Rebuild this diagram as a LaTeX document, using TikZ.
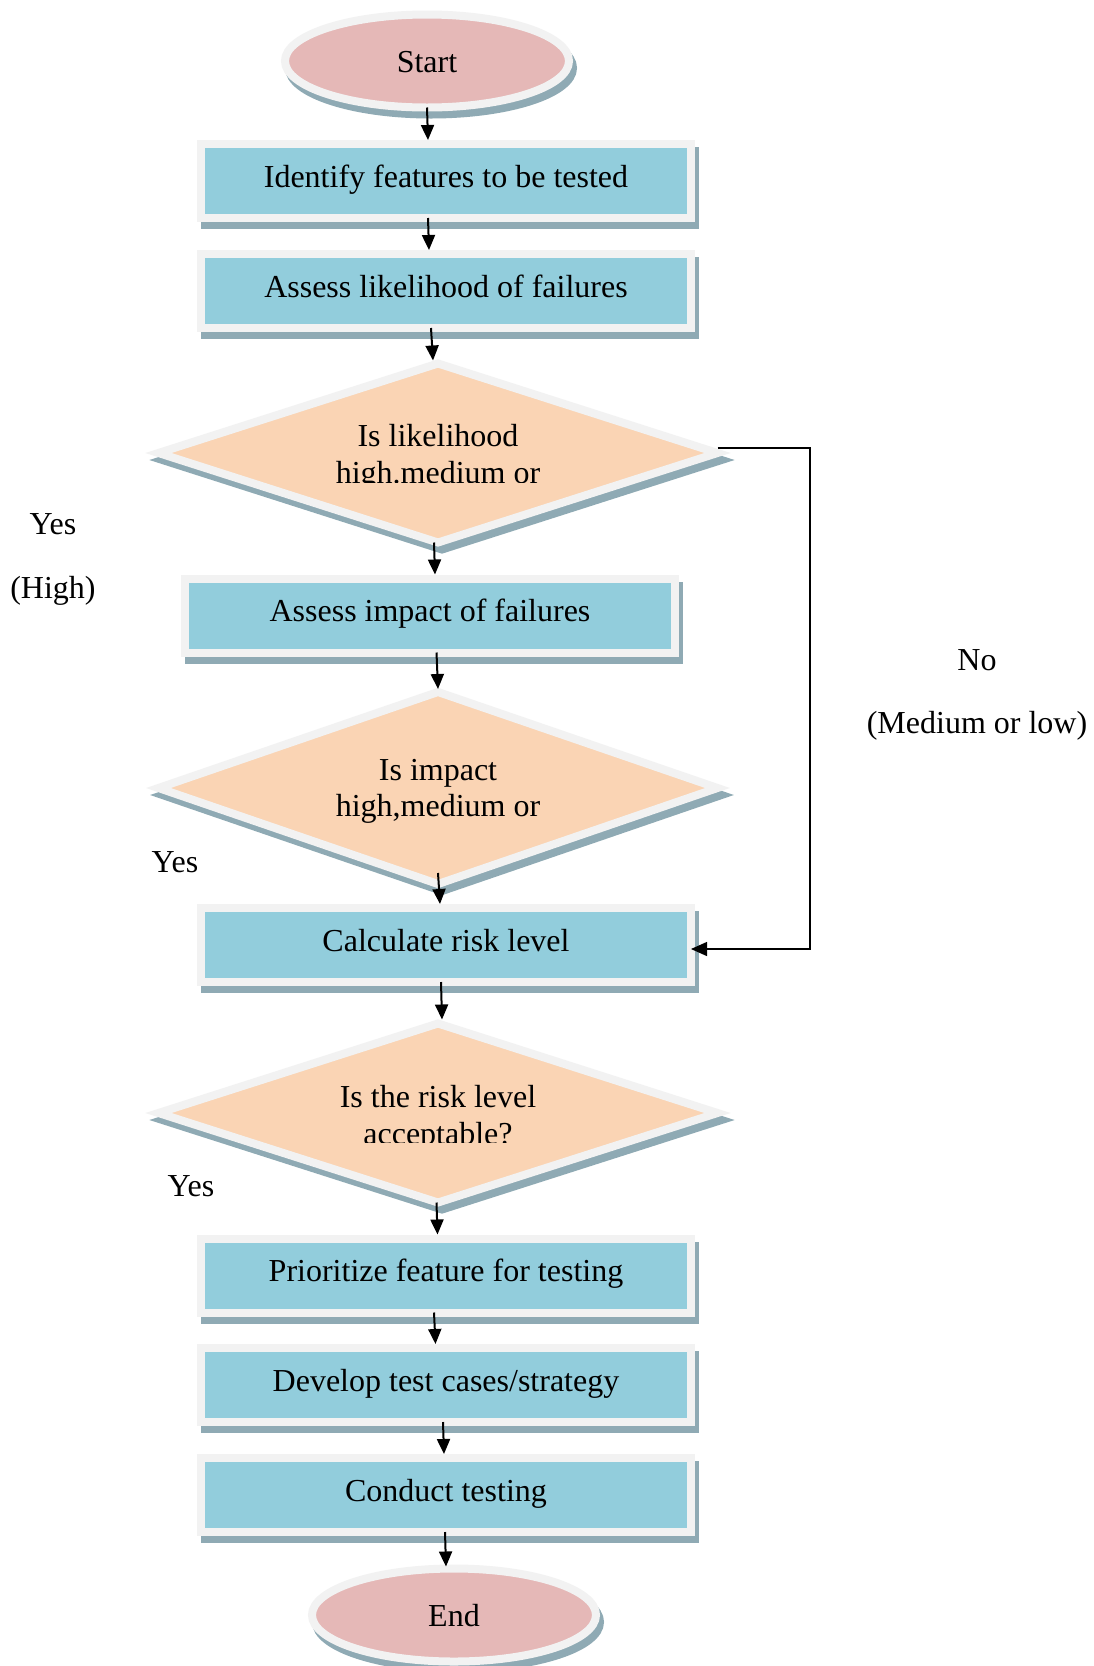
\documentclass[tikz,border=0pt]{standalone}
\usepackage{fontspec}
\setmainfont{Liberation Serif}
\usetikzlibrary{shapes.geometric,shadows,arrows.meta}
\definecolor{boxblue}{HTML}{92CDDC}
\definecolor{pinkc}{HTML}{E5B8B7}
\definecolor{orangec}{HTML}{FAD4B4}
\definecolor{bordergray}{HTML}{F2F2F2}
\definecolor{shadowc}{HTML}{8FAAB4}
\newcommand{\fsz}{\fontsize{32}{37}\selectfont}
\tikzset{
  shapebase/.style={draw=bordergray, line width=8pt, inner sep=0pt, outer sep=0pt,
    general shadow={fill=shadowc, draw=shadowc, line width=8pt, shadow xshift=4pt, shadow yshift=-7pt}},
  procbox/.style={shapebase, rectangle, fill=boxblue, minimum width=490pt, minimum height=74pt,
    font=\fsz, text height=19.2pt, text depth=7.2pt},
  termnode/.style={shapebase, ellipse, fill=pinkc, minimum width=284pt, minimum height=93pt,
    font=\fsz, text height=25pt, text depth=2.4pt},
  decnode/.style={shapebase, diamond, fill=orangec, minimum width=559pt, minimum height=179pt},
  dtext/.style={font=\fsz, anchor=base, inner sep=0pt},
  lbl/.style={font=\fsz, inner sep=0pt},
  arr/.style={line width=2pt, -{Triangle[width=13pt,length=15pt]}},
  looparr/.style={line width=1.3pt, -{Triangle[width=14pt,length=16pt]}}
}
\begin{document}
\begin{tikzpicture}[x=1pt,y=-1pt]
\fill[white] (0,0) rectangle (1094,1666);
\useasboundingbox (0,0) rectangle (1094,1666);

\node[termnode] (start) at (427,61) {Start};
\node[procbox] (b1) at (446,181) {Identify features to be tested};
\node[procbox] (b2) at (446,291) {Assess likelihood of failures};
\node[decnode] (d1) at (438,453) {};
\node[procbox] (b3) at (430,615.5) {Assess impact of failures};
\node[decnode, minimum height=192pt] (d2) at (438,788) {};
\node[procbox] (b4) at (446,945) {Calculate risk level};
\node[decnode] (d3) at (438,1113) {};
\node[procbox] (b5) at (446,1275.5) {Prioritize feature for testing};
\node[procbox] (b6) at (446,1385) {Develop test cases/strategy};
\node[procbox] (b7) at (446,1495) {Conduct testing};
\node[termnode] (end) at (454,1615) {End};

% diamond texts
\node[dtext] (d1a) at (438,446) {Is likelihood};
\begin{scope}
\clip (0,0) rectangle (1094,482);
\node[dtext] (d1b) at (438,483) {high.medium or};
\end{scope}
\node[dtext] (d2a) at (438,780) {Is impact};
\node[dtext] (d2b) at (438,816) {high,medium or};
\node[dtext] (d3a) at (438,1107) {Is the risk level};
\begin{scope}
\clip (0,0) rectangle (1094,1142);
\node[dtext] (d3b) at (438,1144) {acceptable?};
\end{scope}

% side labels
\node[lbl] (yes1) at (53,524) {Yes};
\node[lbl] (high) at (53,590.5) {(High)};
\node[lbl] (yes2) at (175,862) {Yes};
\node[lbl] (yes3) at (191,1186) {Yes};
\node[lbl] (no) at (977,660) {No};
\node[lbl] (medlow) at (977,726) {(Medium or low)};

% connectors
\draw[arr] (start.south) -- ([xshift=-18pt,yshift=4pt]b1.north);
\draw[arr] ([xshift=-18pt]b1.south) -- ([xshift=-17pt,yshift=4pt]b2.north);
\draw[arr] ([xshift=-15pt]b2.south) -- ([xshift=-5pt,yshift=3pt]d1.north);
\draw[arr] ([xshift=-4pt]d1.south) -- ([xshift=5pt,yshift=4pt]b3.north);
\draw[arr] ([xshift=6.5pt]b3.south) -- ([yshift=3pt]d2.north);
\draw[arr] ([yshift=11pt]d2.south) -- ([xshift=-6pt,yshift=4pt]b4.north);
\draw[arr] ([xshift=-5pt]b4.south) -- ([xshift=4pt,yshift=4pt]d3.north);
\draw[arr] ([xshift=-1.5pt]d3.south) -- ([xshift=-8.5pt,yshift=4pt]b5.north);
\draw[arr] ([xshift=-12pt]b5.south) -- ([xshift=-10.5pt,yshift=4pt]b6.north);
\draw[arr] ([xshift=-3pt]b6.south) -- ([xshift=-2pt,yshift=4pt]b7.north);
\draw[arr] ([xshift=-1pt]b7.south) -- ([xshift=-8pt,yshift=2pt]end.north);

\coordinate (loopc) at (810,448);
\draw[looparr] ([yshift=5pt]d1.east) -- (loopc) |- ([yshift=-4pt]b4.east);
\end{tikzpicture}
\end{document}
